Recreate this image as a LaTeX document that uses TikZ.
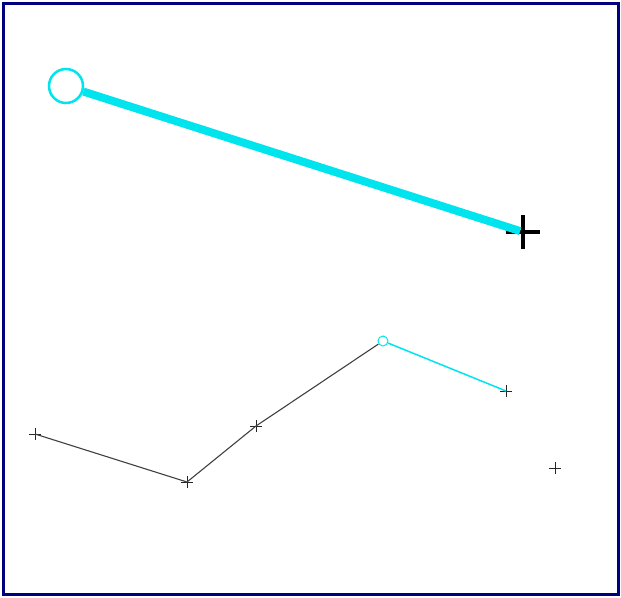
\documentclass[tikz,border=0pt]{standalone}
\usetikzlibrary{shapes.misc}
\definecolor{navyframe}{RGB}{0,0,128}
\definecolor{rubber}{RGB}{0,228,238}

\begin{document}
\begin{tikzpicture}[x=1pt, y=-1pt,
          vtx/.style={draw=black!85, cross out, rotate=45, minimum size=7pt,
                      inner sep=0pt, line width=0.9pt},
          bigvtx/.style={draw=black, cross out, rotate=45, minimum size=21pt,
                         inner sep=0pt, line width=3.5pt},
          ring/.style={draw=rubber, circle, inner sep=0pt},
          seg/.style={black!75, line width=1.1pt},
          rub/.style={rubber, line width=1.5pt}
        ]
          \useasboundingbox (0,0) rectangle (621,597);
          \draw[navyframe, line width=3pt] (3.5,3.5) rectangle (618.5,594.5);
          % dragged edge
          \node[bigvtx] (cur) at (523,232) {};
          \node[ring, minimum size=34pt, line width=2.5pt] (anc) at (66,86) {};
          \draw[rubber, line width=8pt, shorten >=3pt] (anc) -- (cur.center);
          % polyline
          \node[vtx] (p1) at (35,434) {};
          \node[vtx] (p2) at (187,482) {};
          \node[vtx] (p3) at (256,426) {};
          \node[ring, minimum size=10pt, line width=1pt] (p4) at (383,341) {};
          \node[vtx] (p5) at (506,391) {};
          \node[vtx] (p6) at (555,468) {};
          \draw[seg] (p1.center) -- (p2.center) -- (p3.center) -- (p4);
          \draw[rub] (p4) -- (p5.center);
        \end{tikzpicture}
\end{document}
